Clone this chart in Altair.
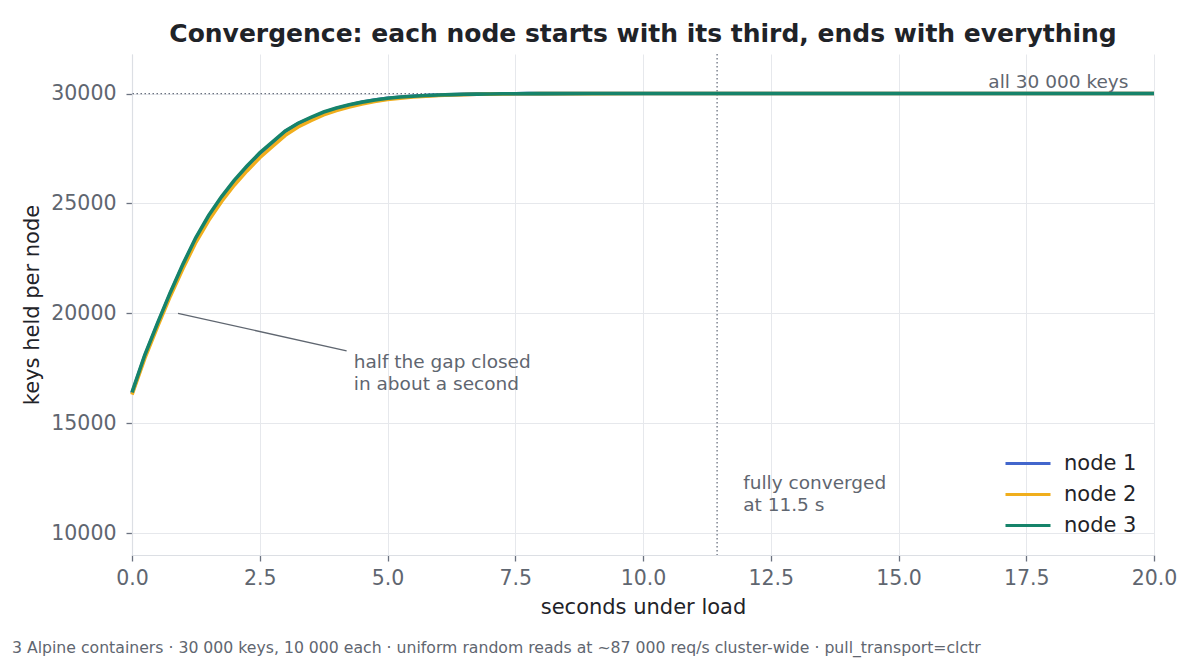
import altair as alt
import pandas as pd

# ---- data ----
times = [0.0, 0.25, 0.5, 0.75, 1.0, 1.25, 1.5, 1.75, 2.0, 2.25, 2.5, 2.75,
         3.0, 3.25, 3.5, 3.75, 4.0, 4.25, 4.5, 4.75, 5.0, 5.25, 5.5, 5.75,
         6.0, 6.25, 6.5, 6.75, 7.0, 7.25, 7.5, 7.75, 8.0,
         9.0, 10.0, 11.0, 12.0, 13.0, 14.0, 15.0, 16.0, 17.0, 18.0, 19.0, 20.0]

node1 = [16350, 18050, 19500, 20900, 22200, 23400, 24400, 25250, 26000, 26650, 27250, 27760,
         28280, 28630, 28880, 29130, 29320, 29470, 29600, 29700, 29780, 29835, 29875, 29905,
         29930, 29948, 29962, 29973, 29981, 29988, 29992, 29995, 29997,
         30000, 30000, 30000, 30000, 30000, 30000, 30000, 30000, 30000, 30000, 30000, 30000]

node2 = [16300, 17950, 19400, 20780, 22050, 23230, 24220, 25080, 25830, 26480, 27080, 27590,
         28100, 28480, 28770, 29030, 29230, 29390, 29530, 29640, 29730, 29790, 29840, 29880,
         29910, 29935, 29952, 29965, 29975, 29983, 29989, 29993, 29996,
         29999, 30000, 30000, 30000, 30000, 30000, 30000, 30000, 30000, 30000, 30000, 30000]

node3 = [16400, 18100, 19550, 20950, 22250, 23450, 24450, 25300, 26050, 26700, 27300, 27800,
         28300, 28650, 28920, 29160, 29340, 29490, 29610, 29710, 29790, 29840, 29880, 29910,
         29935, 29950, 29965, 29975, 29983, 29989, 29993, 29996, 29998,
         30000, 30000, 30000, 30000, 30000, 30000, 30000, 30000, 30000, 30000, 30000, 30000]

node_names = ["node 1", "node 2", "node 3"]
node_colors = ["#4266cc", "#f0ae1c", "#16836a"]

total_keys = 30000
converged_at = 11.45

title_text = "Convergence: each node starts with its third, ends with everything"
footer_text = ("3 Alpine containers · 30 000 keys, 10 000 each · uniform random reads at "
               "~87 000 req/s cluster-wide · pull_transport=clctr")

rows = []
for name, series in zip(node_names, [node1, node2, node3]):
    for t, v in zip(times, series):
        rows.append({"t": t, "keys": v, "node": name})
df = pd.DataFrame(rows)

FONT = "DejaVu Sans"
GRAY_TXT = "#5f6670"
DARK = "#1f2328"

x_scale = alt.Scale(domain=[0, 20], nice=False, zero=False)
y_scale = alt.Scale(domain=[9000, 31800], nice=False, zero=False)

W, H = 1022, 501

lines = alt.Chart(df).mark_line(strokeWidth=3.6, strokeCap="butt").encode(
    x=alt.X("t:Q", scale=x_scale,
            axis=alt.Axis(title="seconds under load", values=[0, 2.5, 5, 7.5, 10, 12.5, 15, 17.5, 20],
                          format=".1f", labelFlush=False)),
    y=alt.Y("keys:Q", scale=y_scale,
            axis=alt.Axis(title="keys held per node", values=[10000, 15000, 20000, 25000, 30000],
                          format="d", labelFlush=False)),
    color=alt.Color("node:N",
                    scale=alt.Scale(domain=node_names, range=node_colors),
                    legend=alt.Legend(title=None, orient="none", legendX=872, legendY=394,
                                      symbolType="stroke", symbolStrokeWidth=3, symbolSize=2025,
                                      labelFontSize=21, labelColor=DARK, labelFont=FONT,
                                      labelOffset=12, rowPadding=0, clipHeight=31)),
    order=alt.Order("node:N"),
)

hline = alt.Chart(pd.DataFrame({"y": [total_keys]})).mark_rule(
    color="#6b7280", strokeWidth=1.3, strokeDash=[1.5, 2.5]
).encode(y=alt.Y("y:Q", scale=y_scale))

vline = alt.Chart(pd.DataFrame({"x": [converged_at]})).mark_rule(
    color="#6b7280", strokeWidth=1.3, strokeDash=[1.5, 2.5]
).encode(x=alt.X("x:Q", scale=x_scale))

ann_all = alt.Chart(pd.DataFrame({"x": [19.5], "y": [total_keys], "text": ["all 30 000 keys"]})).mark_text(
    align="right", baseline="bottom", dy=-2, fontSize=18.5, font=FONT, color=GRAY_TXT
).encode(x=alt.X("x:Q", scale=x_scale), y=alt.Y("y:Q", scale=y_scale), text="text:N")

ann_conv = alt.Chart(pd.DataFrame({"x": [11.96], "y": [12280],
                                   "text": [["fully converged", "at 11.5 s"]]})).mark_text(
    align="left", baseline="middle", fontSize=18.5, font=FONT, color=GRAY_TXT, lineHeight=22
).encode(x=alt.X("x:Q", scale=x_scale), y=alt.Y("y:Q", scale=y_scale), text="text")

arrow = alt.Chart(pd.DataFrame({"x": [0.9], "y": [20000], "x2": [4.2], "y2": [18290]})).mark_rule(
    color="#5f6670", strokeWidth=1.3
).encode(x=alt.X("x:Q", scale=x_scale), y=alt.Y("y:Q", scale=y_scale), x2="x2:Q", y2="y2:Q")

ann_half = alt.Chart(pd.DataFrame({"x": [4.34], "y": [17790],
                                   "text": [["half the gap closed", "in about a second"]]})).mark_text(
    align="left", baseline="middle", fontSize=18.5, font=FONT, color=GRAY_TXT, lineHeight=22
).encode(x=alt.X("x:Q", scale=x_scale), y=alt.Y("y:Q", scale=y_scale), text="text")

title = alt.Chart(pd.DataFrame({"text": [title_text]})).mark_text(
    align="center", baseline="alphabetic", fontSize=25, fontWeight="bold", font=FONT, color=DARK
).encode(x=alt.value(W / 2), y=alt.value(-12), text="text:N")

footer = alt.Chart(pd.DataFrame({"text": [footer_text]})).mark_text(
    align="left", baseline="middle", fontSize=15.7, font=FONT, color=GRAY_TXT
).encode(x=alt.value(-120), y=alt.value(594), text="text:N")

chart = alt.layer(hline, vline, lines, arrow, ann_all, ann_conv, ann_half, title, footer).properties(
    width=W, height=H,
    autosize=alt.AutoSizeParams(type="none"),
    padding={"left": 124, "top": 46, "right": 38, "bottom": 104},
).configure_view(stroke=None).configure_axis(
    labelFont=FONT, titleFont=FONT, labelFontSize=20.5, labelColor=GRAY_TXT,
    titleFontSize=21, titleColor=DARK, titleFontWeight="normal",
    gridColor="#e6e8ec", gridWidth=1, domainColor="#dcdfe4", domainWidth=1.2,
    tickColor="#6b7280", tickSize=6, tickWidth=1.3, labelPadding=5,
).configure_axisY(titlePadding=8, labelPadding=10).configure_axisX(titlePadding=8, labelPadding=7)

chart.save("out.html", embed_options={"renderer": "svg", "actions": False})
